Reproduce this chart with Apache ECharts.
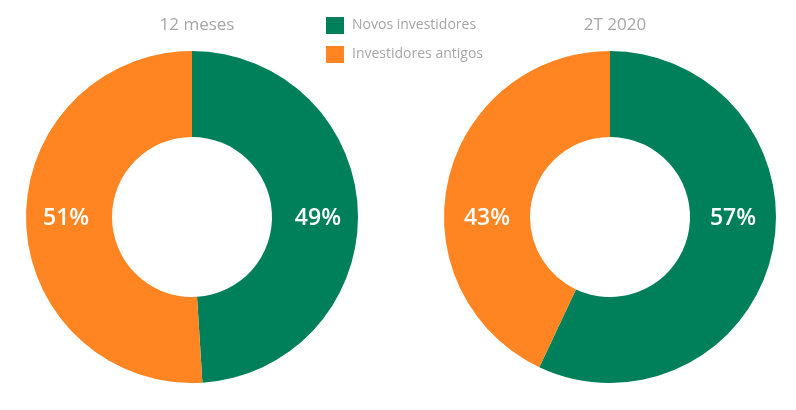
<!DOCTYPE html>
<html>
<head>
<meta charset="utf-8">
<script src="https://cdn.jsdelivr.net/npm/echarts@6/dist/echarts.min.js"></script>
<style>
  html, body { margin: 0; padding: 0; background: #fff; }
  #chart { width: 796px; height: 410px; }
</style>
</head>
<body>
<div id="chart"></div>
<script>
// dados
const categorias = ['Novos investidores', 'Investidores antigos'];
const periodos = ['12 meses', '2T 2020'];
const valores12m = [49, 51];
const valores2T = [57, 43];

const cores = ['#00805a', '#ff8522'];
const fonte = '"Open Sans", Lato, sans-serif';
const centroY = 217;
const centros = [192, 610];

const chart = echarts.init(document.getElementById('chart'));

function serie(valores, cx) {
  return {
    type: 'pie',
    radius: [80, 166],
    center: [cx, centroY],
    startAngle: 90,
    clockwise: true,
    avoidLabelOverlap: false,
    silent: true,
    label: {
      show: true,
      position: 'inside',
      formatter: '{c}%',
      color: '#fff',
      fontSize: 23,
      fontWeight: 600,
      fontFamily: fonte
    },
    // rótulos na altura do centro do anel
    labelLayout: function () {
      return { y: centroY + 1 };
    },
    labelLine: { show: false },
    data: categorias.map((nome, i) => ({ name: nome, value: valores[i] }))
  };
}

const option = {
  color: cores,
  animation: false,
  title: periodos.map((t, i) => ({
    text: t,
    left: centros[i],
    top: 12,
    textAlign: 'center',
    textStyle: { color: '#a6a6a6', fontSize: 17, fontWeight: 'normal', fontFamily: fonte }
  })),
  legend: {
    data: categorias,
    orient: 'vertical',
    left: 321,
    top: 12,
    itemWidth: 18,
    itemHeight: 17,
    itemGap: 12,
    icon: 'rect',
    textStyle: { color: '#a6a6a6', fontSize: 14, fontFamily: fonte, padding: [0, 0, 0, 3] }
  },
  series: [serie(valores12m, centros[0]), serie(valores2T, centros[1])]
};

chart.setOption(option);
</script>
</body>
</html>
